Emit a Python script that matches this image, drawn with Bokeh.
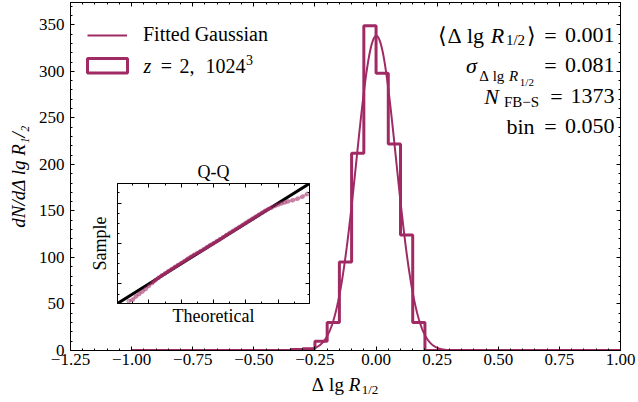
import numpy as np
from bokeh.plotting import figure
from bokeh.layouts import column
from bokeh.models import (Range1d, LinearAxis, FixedTicker, Label, Legend, LegendItem,
                          CustomJSTickFormatter, BoxAnnotation)
from bokeh.embed import file_html
from bokeh.resources import INLINE

# ---------------- data ----------------
bin_start = -1.0
bin_width = 0.05
counts = [0, 0, 0, 0, 0, 0, 0, 0, 0, 0, 0, 0, 0,
          1, 2, 10, 30, 95, 212, 349, 298, 222, 124, 30,
          0, 0, 0, 0, 0, 0, 0, 0, 0, 0, 0, 0, 0, 0, 0, 0]
fit_mean = 0.001
fit_sigma = 0.081
n_total = 1373

x_ticks = [-1.25, -1.0, -0.75, -0.5, -0.25, 0.0, 0.25, 0.5, 0.75, 1.0]
x_tick_labels = ["\u22121.25", "\u22121.00", "\u22120.75", "\u22120.50", "\u22120.25",
                 "0.00", "0.25", "0.50", "0.75", "1.00"]
y_ticks = [0, 50, 100, 150, 200, 250, 300, 350]
y_tick_labels = ["0", "50", "100", "150", "200", "250", "300", "350"]

qq_theory = [-2.62, -2.50, -2.40, -2.30, -2.20, -2.10, -2.00, -1.90, -1.80, -1.70,
             -1.60, -1.50, -1.40, -1.30, -1.20, -1.10, -1.00, -0.90, -0.80, -0.70,
             -0.60, -0.50, -0.40, -0.30, -0.20, -0.10, 0.00, 0.10, 0.20, 0.30,
             0.40, 0.50, 0.60, 0.70, 0.80, 0.90, 1.00, 1.10, 1.20, 1.30,
             1.40, 1.50, 1.60, 1.70, 1.80, 1.90, 2.00, 2.10, 2.20, 2.30,
             2.45, 2.60, 2.75, 2.90]
qq_sample = [-2.85, -2.78, -2.62, -2.50, -2.38, -2.25, -2.10, -1.96, -1.82, -1.70,
             -1.58, -1.48, -1.37, -1.27, -1.17, -1.07, -0.97, -0.87, -0.76, -0.66,
             -0.56, -0.47, -0.38, -0.28, -0.18, -0.08, 0.01, 0.11, 0.21, 0.31,
             0.42, 0.52, 0.62, 0.72, 0.82, 0.92, 1.02, 1.12, 1.22, 1.32,
             1.42, 1.52, 1.62, 1.71, 1.78, 1.86, 1.92, 1.98, 2.03, 2.08,
             2.14, 2.22, 2.32, 2.45]
qq_ref = [-2.97, 2.97]
qq_x_ticks = [-2, -1, 0, 1, 2]
qq_y_ticks = [-2, 0, 2]

# ---------------- style ----------------
C = "#A02A64"
FONT = "Liberation Serif"
W, H = 638, 402
BL, BR, BT, BB = 70, 18, 2, 52   # main frame borders
FB = H - BB                      # frame bottom on the canvas

edges = [bin_start + i * bin_width for i in range(len(counts) + 1)]
step_y = counts + [0]
fit_x = np.linspace(-1.0, 1.0, 801)
amp = n_total * bin_width / (fit_sigma * np.sqrt(2 * np.pi))
fit_y = amp * np.exp(-0.5 * ((fit_x - fit_mean) / fit_sigma) ** 2)

p = figure(width=W, height=H, x_range=Range1d(-1.25, 1.0), y_range=Range1d(0, 374),
           output_backend="svg", toolbar_location=None,
           min_border_left=BL, min_border_right=BR, min_border_top=BT, min_border_bottom=BB)
p.xgrid.visible = False
p.ygrid.visible = False
p.outline_line_color = "black"
p.outline_line_width = 1
p.background_fill_color = "white"
p.border_fill_color = "white"

x_minor = [round(-1.25 + 0.05 * i, 2) for i in range(46)]
y_minor = list(range(0, 380, 10))
nolab = CustomJSTickFormatter(code="return ''")


def style_axis(ax, labels=True):
    ax.major_tick_in = 4
    ax.major_tick_out = 0
    ax.minor_tick_in = 2
    ax.minor_tick_out = 0
    ax.axis_line_color = "black"
    ax.major_tick_line_color = "black"
    ax.minor_tick_line_color = "black"
    ax.major_label_text_font = FONT
    ax.major_label_text_font_size = "17px"
    ax.major_label_text_color = "black"
    if not labels:
        ax.formatter = nolab
        ax.major_label_standoff = 0


p.xaxis.ticker = FixedTicker(ticks=x_ticks, minor_ticks=x_minor)
p.xaxis.major_label_overrides = dict(zip(x_ticks, x_tick_labels))
p.yaxis.ticker = FixedTicker(ticks=y_ticks, minor_ticks=y_minor)
p.yaxis.major_label_overrides = dict(zip(y_ticks, y_tick_labels))
style_axis(p.xaxis[0])
style_axis(p.yaxis[0])
p.xaxis.major_label_standoff = 3
p.yaxis.major_label_standoff = 6
p.yaxis.axis_label = "dN/d\u0394 lg R\u2081/\u2082"
p.yaxis.axis_label_text_font = FONT
p.yaxis.axis_label_text_font_size = "19px"
p.yaxis.axis_label_text_font_style = "italic"
p.yaxis.axis_label_text_color = "black"
p.yaxis.axis_label_standoff = 7

top = LinearAxis(ticker=FixedTicker(ticks=x_ticks, minor_ticks=x_minor))
right = LinearAxis(ticker=FixedTicker(ticks=y_ticks, minor_ticks=y_minor))
style_axis(top, False)
style_axis(right, False)
p.add_layout(top, "above")
p.add_layout(right, "right")

hist = p.step(x=edges, y=step_y, mode="after", line_color=C, line_width=3)
gauss = p.line(fit_x, fit_y, line_color=C, line_width=2)

leg1 = Legend(items=[LegendItem(label="Fitted Gaussian", renderers=[gauss])],
              location=(17, 304), glyph_width=40, glyph_height=20, label_height=20,
              label_standoff=16, padding=0, margin=0, spacing=0,
              border_line_color=None, background_fill_alpha=0,
              label_text_font=FONT, label_text_font_size="20px",
              label_text_color="black")
p.add_layout(leg1)


def plab(text, cx, cy, size, style="normal", align="center"):
    """Label inside the main frame, given canvas pixel position."""
    p.add_layout(Label(x=cx - BL, y=FB - cy, x_units="screen", y_units="screen",
                       text=text, text_font=FONT, text_font_size=f"{size}px",
                       text_font_style=style, text_align=align, text_baseline="middle",
                       text_color="black"))


# legend entry text for the histogram
ly = 65
plab("z", 143, ly, 20, "italic", align="left")
plab("=", 166, ly, 20)
plab("2,", 179, ly, 20, align="left")
plab("1024", 205, ly, 20, align="left")
plab("3", 245.5, ly - 6, 14, align="left")

# annotations
y1, y2, y3, y4 = 34.5, 64.5, 95.5, 125.5
plab("0.001", 614, y1, 22, align="right")
plab("=", 550, y1, 22)
plab("\u27e9", 531, y1, 22)
plab("1/2", 515, y1 + 5, 15)
plab("R", 497, y1, 22, "italic")
plab("lg", 475, y1, 22)
plab("\u0394", 454, y1, 22)
plab("\u27e8", 442, y1, 22)

plab("0.081", 614, y2, 22, align="right")
plab("=", 550, y2, 22)
plab("1/2", 526.4, y2 + 17, 11)
plab("R", 513, y2 + 11, 15, "italic")
plab("lg", 498, y2 + 11, 15)
plab("\u0394", 483.5, y2 + 11, 15)
plab("\u03c3", 471, y2, 22, "italic")

plab("1373", 614, y3, 22, align="right")
plab("=", 556, y3, 22)
plab("FB\u2212S", 521, y3 + 6, 15)
plab("N", 491, y3, 22, "italic")

plab("0.050", 614, y4, 22, align="right")
plab("=", 550, y4, 22)
plab("bin", 520, y4, 22)

# ---------------- overlay (canvas pixel coordinates) for items outside the frame ----------------
ov = figure(width=W, height=H, x_range=Range1d(BL, W - BR), y_range=Range1d(H, 0),
            x_axis_type=None, y_axis_type=None, output_backend="svg", toolbar_location=None,
            min_border_left=BL, min_border_right=BR, min_border_top=0, min_border_bottom=0)
ov.outline_line_color = None
ov.background_fill_alpha = 0
ov.border_fill_alpha = 0
ov.xgrid.visible = False
ov.ygrid.visible = False


def olab(text, cx, cy, size, style="normal", align="center"):
    ov.add_layout(Label(x=cx, y=cy, text=text, text_font=FONT, text_font_size=f"{size}px",
                        text_font_style=style, text_align=align, text_baseline="middle",
                        text_color="black"))


ov.add_layout(BoxAnnotation(left=87, right=127, top=58, bottom=72.5, fill_alpha=0,
                            line_color=C, line_width=3, line_alpha=1))

# x axis label
xl = 384
olab("\u0394", 317.4, xl, 19)
olab("lg", 336, xl, 19)
olab("R", 354, xl, 19, "italic")
olab("1/2", 369.5, xl + 5, 13)

# ---------------- inset Q-Q ----------------
QW, QH = 192, 120
QT, QB = 33, 30
qq = figure(width=BL + QW + BR, height=QT + QH + QB,
            x_range=Range1d(-2.97, 2.97), y_range=Range1d(-2.97, 2.97),
            output_backend="svg", toolbar_location=None, title="Q-Q",
            min_border_left=BL, min_border_right=BR, min_border_top=QT, min_border_bottom=QB)
qq.title.align = "center"
qq.title.text_font = FONT
qq.title.text_font_size = "18px"
qq.title.text_font_style = "normal"
qq.title.text_color = "black"
qq.title.standoff = 3
qq.xgrid.visible = False
qq.ygrid.visible = False
qq.outline_line_color = "black"
qq.background_fill_alpha = 0
qq.border_fill_alpha = 0

qx_minor = [-2.5 + 0.5 * i for i in range(11)]
qy_minor = [-2.5 + 0.5 * i for i in range(11)]
qq.xaxis.ticker = FixedTicker(ticks=qq_x_ticks, minor_ticks=qx_minor)
qq.yaxis.ticker = FixedTicker(ticks=qq_y_ticks, minor_ticks=qy_minor)
style_axis(qq.xaxis[0], False)
style_axis(qq.yaxis[0], False)
qq.xaxis.axis_label = "Theoretical"
qq.yaxis.axis_label = "Sample"
for ax in (qq.xaxis[0], qq.yaxis[0]):
    ax.axis_label_text_font = FONT
    ax.axis_label_text_font_size = "18px"
    ax.axis_label_text_font_style = "normal"
    ax.axis_label_text_color = "black"
qq.xaxis.axis_label_standoff = 2
qq.yaxis.axis_label_standoff = 8
qtop = LinearAxis(ticker=FixedTicker(ticks=qq_x_ticks, minor_ticks=qx_minor))
qright = LinearAxis(ticker=FixedTicker(ticks=qq_y_ticks, minor_ticks=qy_minor))
style_axis(qtop, False)
style_axis(qright, False)
qq.add_layout(qtop, "above")
qq.add_layout(qright, "right")

qq.line(qq_ref, qq_ref, line_color="black", line_width=3)
qq.line(qq_theory, qq_sample, line_color=C, line_width=3, line_alpha=0.35)
qq.scatter(qq_theory, qq_sample, size=4, color=C, alpha=0.35)
core = [i for i, t in enumerate(qq_theory) if -1.9 <= t <= 1.8]
qq.line([qq_theory[i] for i in core], [qq_sample[i] for i in core],
        line_color=C, line_width=3, line_alpha=0.9)

QX0, QY0 = 117, 183   # inset frame top-left on the canvas
ov.margin = (-H, 0, 0, 0)
qq.margin = (QY0 - QT - H, 0, H - (QY0 - QT) - (QT + QH + QB), QX0 - BL)
layout = column(p, ov, qq)

open("out.html", "w").write(file_html(layout, INLINE))
